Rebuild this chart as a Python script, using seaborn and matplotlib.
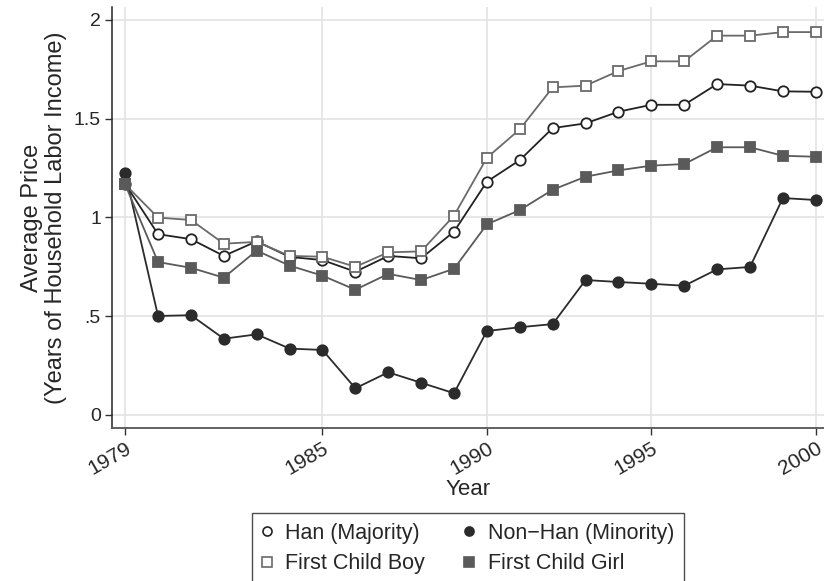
import numpy as np
import pandas as pd
import matplotlib.pyplot as plt
import seaborn as sns
from matplotlib.lines import Line2D

# values
years = list(range(1979, 2001))
han = [1.17, 0.915, 0.89, 0.805, 0.879, 0.80, 0.784, 0.725, 0.805, 0.793, 0.928,
       1.181, 1.29, 1.452, 1.476, 1.535, 1.570, 1.570, 1.675, 1.667, 1.638, 1.636]
non_han = [1.226, 0.501, 0.505, 0.386, 0.408, 0.336, 0.329, 0.135, 0.216, 0.163, 0.11,
           0.425, 0.444, 0.46, 0.683, 0.673, 0.664, 0.654, 0.737, 0.749, 1.098, 1.088]
boy = [1.167, 0.999, 0.987, 0.867, 0.876, 0.805, 0.801, 0.75, 0.823, 0.828, 1.009,
       1.302, 1.446, 1.658, 1.667, 1.741, 1.79, 1.79, 1.92, 1.92, 1.938, 1.938]
girl = [1.167, 0.774, 0.745, 0.695, 0.832, 0.756, 0.705, 0.634, 0.714, 0.683, 0.74,
        0.965, 1.037, 1.14, 1.206, 1.238, 1.262, 1.27, 1.355, 1.355, 1.312, 1.307]

labels = ['Han (Majority)', 'Non\u2212Han (Minority)', 'First Child Boy', 'First Child Girl']
df = pd.DataFrame({'Year': years * 4,
                   'Price': han + non_han + boy + girl,
                   'Group': np.repeat(labels, len(years))})

sns.set_style('white')
plt.rcParams['font.family'] = ['Liberation Sans', 'DejaVu Sans']

# marker / colour per group
styles = {
    labels[0]: dict(color='#222222', marker='o', mfc='white', mec='#222222'),
    labels[1]: dict(color='#2b2b2b', marker='o', mfc='#2b2b2b', mec='#2b2b2b'),
    labels[2]: dict(color='#6a6a6a', marker='s', mfc='white', mec='#6a6a6a'),
    labels[3]: dict(color='#5a5a5a', marker='s', mfc='#5a5a5a', mec='#5a5a5a'),
}

fig = plt.figure(figsize=(8.24, 5.81), dpi=100)
ax = fig.add_axes([112 / 824, 1 - 428 / 581, (824 - 112) / 824, (428 - 7) / 581])

for g in labels:
    st = styles[g]
    sns.lineplot(data=df[df['Group'] == g], x='Year', y='Price', ax=ax,
                 color=st['color'], marker=st['marker'], markerfacecolor=st['mfc'],
                 markeredgecolor=st['mec'], markeredgewidth=1.3, markersize=7.5,
                 linewidth=1.3, legend=False)

ax.set_xlim(1978.6, 2000.25)
ax.set_ylim(-0.066, 2.065)
ax.set_xticks([1979, 1985, 1990, 1995, 2000])
ax.set_yticks([0, 0.5, 1, 1.5, 2])
ax.set_yticklabels(['0', '.5', '1', '1.5', '2'])
ax.tick_params(axis='y', labelsize=14)
ax.tick_params(axis='x', labelsize=15)
plt.setp(ax.get_xticklabels(), rotation=30, ha='right', rotation_mode='anchor')
ax.tick_params(axis='both', length=5, width=1, direction='out',
               color='#333333', bottom=True, left=True, pad=3)
ax.grid(True, color='#e3e3e3', linewidth=1.2)
ax.set_axisbelow(True)
for s in ['top', 'right']:
    ax.spines[s].set_visible(False)
ax.spines['left'].set_color('#222222')
ax.spines['bottom'].set_color('#555555')
ax.spines['left'].set_linewidth(1.1)
ax.spines['bottom'].set_linewidth(1.3)

ax.set_xlabel('Year', fontsize=16, labelpad=0)
ax.set_ylabel('Average Price\n(Years of Household Labor Income)', fontsize=17,
              labelpad=5, linespacing=1.1)

handles = {}
for g in labels:
    st = styles[g]
    handles[g] = Line2D([], [], linestyle='none', marker=st['marker'],
                        markerfacecolor=st['mfc'], markeredgecolor=st['mec'],
                        markersize=6.5, markeredgewidth=1.2)
# legend fills by column, so reorder to get the reference's rows
order = [labels[0], labels[2], labels[1], labels[3]]
leg = fig.legend([handles[g] for g in order], order, loc='upper left', ncol=2,
                 bbox_to_anchor=(252 / 824, 1 - 513 / 581), fontsize=15.5,
                 frameon=True, fancybox=False, edgecolor='#222222',
                 handlelength=0.45, handletextpad=0.63, columnspacing=1.85,
                 borderpad=0.45, labelspacing=0.45, borderaxespad=0)
leg.get_frame().set_linewidth(1.0)
leg.get_frame().set_facecolor('white')
fig.savefig('out.png', dpi=100)
